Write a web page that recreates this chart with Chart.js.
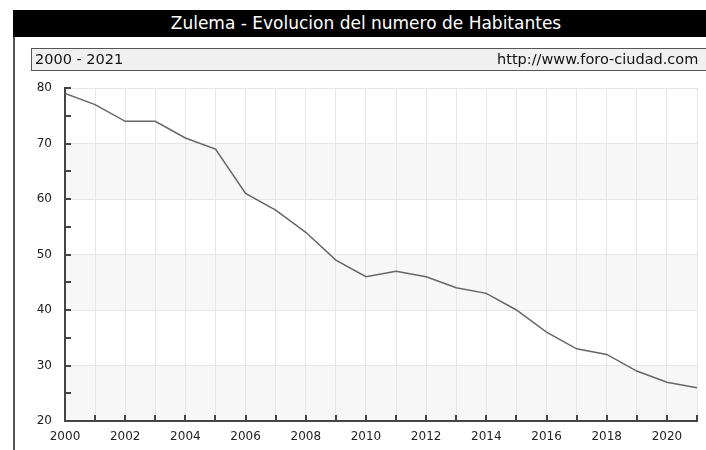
<!DOCTYPE html>
<html>
<head>
<meta charset="utf-8">
<script src="https://cdn.jsdelivr.net/npm/chart.js@4"></script>
<style>
  body { margin: 0; background: #fff; overflow: hidden; }
  #wrap { position: relative; width: 706px; height: 450px; }
  #frame { position: absolute; left: 13px; top: 10px; width: 2px; height: 440px; background: #555; }
  #title {
    position: absolute; left: 13px; top: 10px; width: 706px; height: 27px;
    background: #000; color: #fff; font: 17px "DejaVu Sans", sans-serif;
    line-height: 27px; text-align: center;
  }
  #sub {
    position: absolute; left: 31px; top: 48px; width: 690px; height: 21px;
    background: #f0f0f0; border: 1px solid #555; font: 14.5px "DejaVu Sans", sans-serif;
    line-height: 21px; color: #111;
  }
  #sub .l { position: absolute; left: 3px; }
  #sub .r { position: absolute; left: 465px; }
  canvas { position: absolute; left: 0; top: 0; }
</style>
</head>
<body>
<div id="wrap">
  <canvas id="chart" width="706" height="450"></canvas>
  <div id="frame"></div>
  <div id="title">Zulema - Evolucion del numero de Habitantes</div>
  <div id="sub"><span class="l">2000 - 2021</span><span class="r">http://www.foro-ciudad.com</span></div>
</div>
<script>
const years = [2000, 2001, 2002, 2003, 2004, 2005, 2006, 2007, 2008, 2009, 2010,
               2011, 2012, 2013, 2014, 2015, 2016, 2017, 2018, 2019, 2020, 2021];
const habitantes = [79, 77, 74, 74, 71, 69, 61, 58, 54, 49, 46,
                    47, 46, 44, 43, 40, 36, 33, 32, 29, 27, 26];
const yTicks = [20, 30, 40, 50, 60, 70, 80];

// alternating bands + inner tick marks
const decor = {
    id: 'decor',
    beforeDraw(chart) {
        const { ctx, chartArea, scales } = chart;
        const y = scales.y;
        ctx.save();
        ctx.fillStyle = '#f7f7f7';
        for (let v = y.min; v < y.max; v += 20) {
            const top = y.getPixelForValue(v + 10);
            const bottom = y.getPixelForValue(v);
            ctx.fillRect(chartArea.left, top, chartArea.right - chartArea.left, bottom - top);
        }
        ctx.restore();
    },
    afterDraw(chart) {
        const { ctx, chartArea, scales } = chart;
        ctx.save();
        ctx.strokeStyle = '#444';
        ctx.lineWidth = 2;
        ctx.beginPath();
        for (let v = scales.x.min; v <= scales.x.max; v++) {
            const px = Math.round(scales.x.getPixelForValue(v));
            ctx.moveTo(px, chartArea.bottom);
            ctx.lineTo(px, chartArea.bottom - 6);
        }
        for (let v = scales.y.min; v <= scales.y.max; v += 5) {
            const py = Math.round(scales.y.getPixelForValue(v));
            ctx.moveTo(chartArea.left, py);
            ctx.lineTo(chartArea.left + 6, py);
        }
        ctx.stroke();
        ctx.restore();
    }
};

new Chart(document.getElementById('chart'), {
    type: 'line',
    data: {
        datasets: [{
            data: years.map((yr, i) => ({ x: yr, y: habitantes[i] })),
            borderColor: '#666',
            borderWidth: 1.5,
            pointRadius: 0,
            tension: 0,
            fill: false
        }]
    },
    options: {
        responsive: false,
        animation: false,
        layout: { padding: { top: 88, right: 9, left: 0, bottom: 0 } },
        plugins: { legend: { display: false }, tooltip: { enabled: false } },
        scales: {
            x: {
                type: 'linear',
                min: years[0],
                max: years[years.length - 1],
                afterFit(scale) { scale.height = 29; },
                ticks: {
                    stepSize: 1,
                    padding: 9,
                    color: '#222',
                    font: { family: 'DejaVu Sans', size: 12 },
                    maxRotation: 0,
                    autoSkip: false,
                    callback: v => (v % 2 === 0 ? String(v) : '')
                },
                grid: { color: '#e6e6e6', lineWidth: 1, drawTicks: false },
                border: { color: '#444', width: 2 }
            },
            y: {
                min: yTicks[0],
                max: yTicks[yTicks.length - 1],
                afterFit(scale) { scale.width = 65; },
                afterBuildTicks(scale) { scale.ticks = yTicks.map(v => ({ value: v })); },
                ticks: {
                    padding: 13,
                    color: '#222',
                    font: { family: 'DejaVu Sans', size: 12 }
                },
                grid: { color: '#e6e6e6', lineWidth: 1, drawTicks: false },
                border: { color: '#444', width: 2 }
            }
        }
    },
    plugins: [decor]
});
</script>
</body>
</html>
